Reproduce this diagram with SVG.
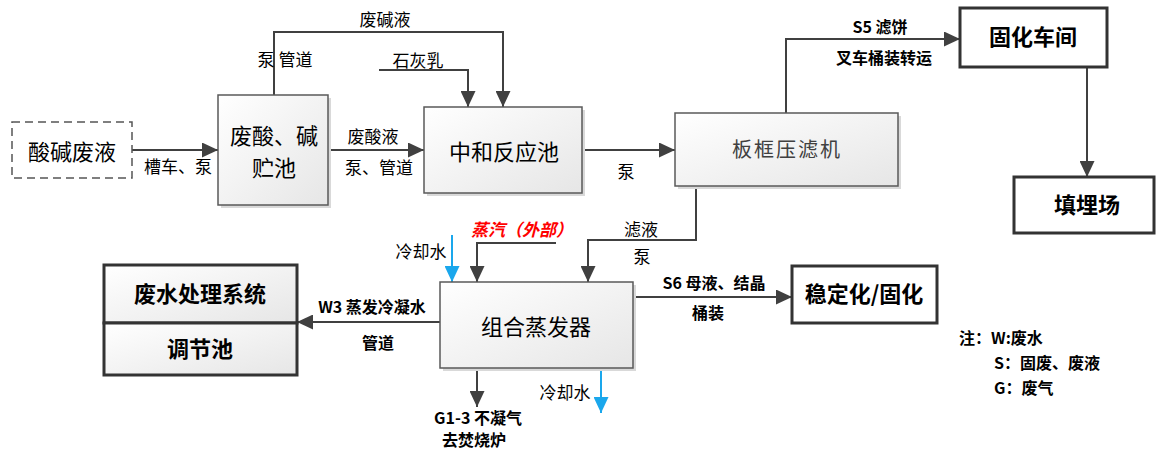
<svg xmlns="http://www.w3.org/2000/svg" width="1156" height="456" viewBox="0 0 1156 456">
<style>
text{font-family:"Noto Sans CJK SC","Liberation Sans",sans-serif;fill:#000}
.bt{font-size:22px;text-anchor:middle}
.bb{font-size:22px;text-anchor:middle;font-weight:bold}
.lb{font-size:17px;text-anchor:middle}
.lbb{font-size:16px;text-anchor:middle;font-weight:bold}
.box{fill:url(#g);stroke:#595959;stroke-width:1.5}
.tbox{fill:#fff;stroke:#333;stroke-width:3}
.tboxg{fill:url(#g);stroke:#333;stroke-width:3}
.sh{fill:#d9d9d9}
.c{fill:none;stroke:#404040;stroke-width:2}
.cb{fill:none;stroke:#1aa7ec;stroke-width:2}
</style>
<defs>
<linearGradient id="g" x1="0" y1="0" x2="1" y2="1">
<stop offset="0" stop-color="#ffffff"/>
<stop offset="1" stop-color="#e6e6e6"/>
</linearGradient>
<marker id="a" markerUnits="userSpaceOnUse" markerWidth="17" markerHeight="15" refX="16" refY="7.5" orient="auto">
<path d="M0,0 L16,7.5 L0,15 z" fill="#404040"/>
</marker>
<marker id="ab" markerUnits="userSpaceOnUse" markerWidth="17" markerHeight="15" refX="16" refY="7.5" orient="auto">
<path d="M0,0 L16,7.5 L0,15 z" fill="#1aa7ec"/>
</marker>
</defs>
<rect width="1156" height="456" fill="#fff"/>

<g id="connectors">
<path class="c" d="M132,150 H218" marker-end="url(#a)"/>
<path class="c" d="M328,150 H424" marker-end="url(#a)"/>
<path class="c" d="M274,95 V32 H503 V107" marker-end="url(#a)"/>
<path class="c" d="M379,70 H468 V107" marker-end="url(#a)"/>
<path class="c" d="M582,150 H675" marker-end="url(#a)"/>
<path class="c" d="M786,113 V39 H960" marker-end="url(#a)"/>
<path class="c" d="M1087,67 V177" marker-end="url(#a)"/>
<path class="c" d="M696,186 V240 H588 V282" marker-end="url(#a)"/>
<path class="c" d="M556,243 H477 V282" marker-end="url(#a)"/>
<path class="cb" d="M452,235 V282" marker-end="url(#ab)"/>
<path class="c" d="M440,322 H297" marker-end="url(#a)"/>
<path class="c" d="M477,368 V407" marker-end="url(#a)"/>
<path class="cb" d="M601,368 V413" marker-end="url(#ab)"/>
<path class="c" d="M633,297 H792" marker-end="url(#a)"/>
</g>

<g id="labels">
<text class="lb" x="385" y="26">废碱液</text>
<text class="lb" x="285" y="66">泵 管道</text>
<text class="lb" x="418" y="67">石灰乳</text>
<text class="lb" x="178" y="173">槽车、泵</text>
<text class="lb" x="373" y="143">废酸液</text>
<text class="lb" x="379" y="174">泵、管道</text>
<text class="lb" x="626" y="178">泵</text>
<text class="lbb" x="880" y="33">S5 滤饼</text>
<text class="lbb" x="884" y="64">叉车桶装转运</text>
<text class="lb" x="641" y="236">滤液</text>
<text class="lb" x="642" y="263">泵</text>
<text class="lb" x="421" y="258">冷却水</text>
<text class="lb" x="522" y="236" style="fill:#ff0000;font-style:italic;font-weight:bold">蒸汽（外部）</text>
<text class="lbb" x="372" y="313">W3 蒸发冷凝水</text>
<text class="lbb" x="378" y="349">管道</text>
<text class="lbb" x="478" y="424">G1-3 不凝气</text>
<text class="lbb" x="474" y="446">去焚烧炉</text>
<text class="lb" x="565" y="399">冷却水</text>
<text class="lbb" x="714" y="289">S6 母液、结晶</text>
<text class="lbb" x="708" y="319">桶装</text>
<text x="959" y="344" style="font-size:16px;font-weight:bold">注：W:废水</text>
<text x="994" y="369" style="font-size:16px;font-weight:bold">S：固废、废液</text>
<text x="994" y="394" style="font-size:16px;font-weight:bold">G：废气</text>
</g>

<g id="n1">
<rect x="12" y="122" width="120" height="56" fill="#fff" stroke="#555" stroke-width="1.5" stroke-dasharray="8 5"/>
<text class="bt" x="72" y="160">酸碱废液</text>
</g>
<g id="n2">
<rect class="sh" x="221" y="98" width="110" height="110"/>
<rect class="box" x="218" y="95" width="110" height="110"/>
<text class="bt" x="274" y="144">废酸、碱</text>
<text class="bt" x="274" y="176">贮池</text>
</g>
<g id="n3">
<rect class="sh" x="427" y="110" width="158" height="86"/>
<rect class="box" x="424" y="107" width="158" height="86"/>
<text class="bt" x="504" y="160">中和反应池</text>
</g>
<g id="n4">
<rect class="sh" x="678" y="116" width="223" height="73"/>
<rect class="box" x="675" y="113" width="223" height="73"/>
<text class="bt" x="787" y="157" style="font-size:20px;letter-spacing:2px;fill:#404040">板框压滤机</text>
</g>
<g id="n5">
<rect class="tbox" x="960" y="8" width="147" height="59"/>
<text class="bb" x="1033" y="45">固化车间</text>
</g>
<g id="n6">
<rect class="tbox" x="1014" y="177" width="140" height="56"/>
<text class="bb" x="1087" y="213">填埋场</text>
</g>
<g id="n7">
<rect class="sh" x="443" y="285" width="193" height="86"/>
<rect class="box" x="440" y="282" width="193" height="86"/>
<text class="bt" x="536" y="335">组合蒸发器</text>
</g>
<g id="n8">
<rect class="tboxg" x="104" y="265" width="193" height="58"/>
<text class="bb" x="200" y="302">废水处理系统</text>
</g>
<g id="n9">
<rect class="tboxg" x="104" y="323" width="193" height="52"/>
<text class="bb" x="200" y="357">调节池</text>
</g>
<g id="n10">
<rect class="tbox" x="792" y="266" width="145" height="57"/>
<text class="bb" x="864" y="302">稳定化/固化</text>
</g>
</svg>
